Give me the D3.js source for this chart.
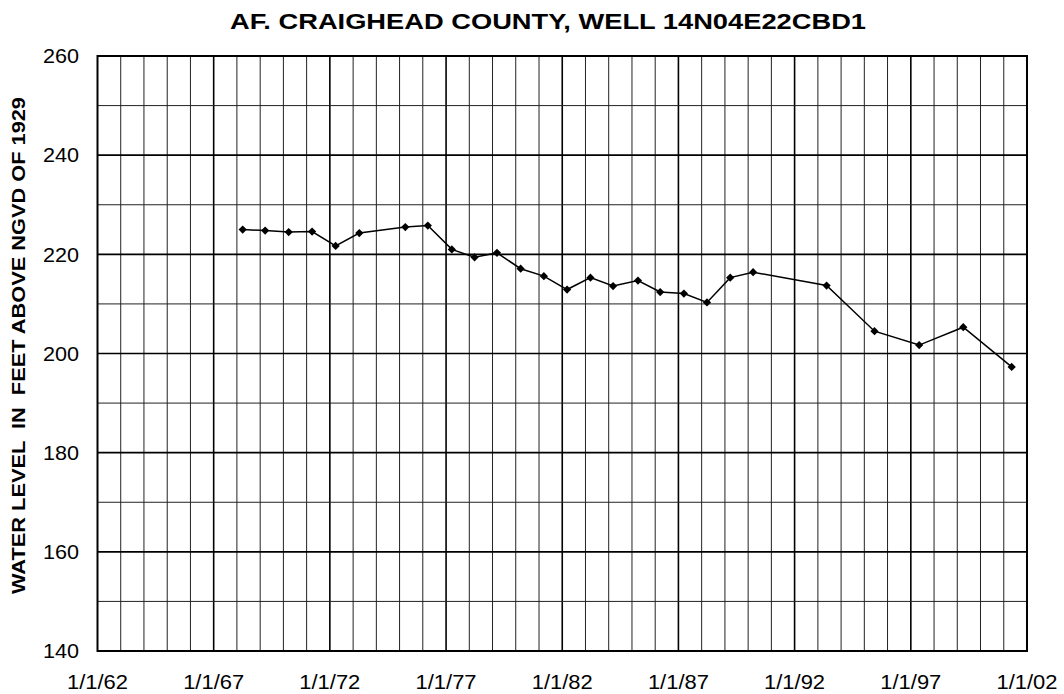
<!DOCTYPE html>
<html><head><meta charset="utf-8">
<script src="https://cdn.jsdelivr.net/npm/d3@7"></script>
<style>body{margin:0;background:#fff;}svg{display:block;font-family:"Liberation Sans",Arial,sans-serif;}</style>
</head><body>
<svg id="chart" width="1064" height="694"></svg>
<script>
const title = "AF. CRAIGHEAD COUNTY, WELL 14N04E22CBD1";
const yLabel = "WATER LEVEL  IN  FEET ABOVE NGVD OF 1929";
const dates = ["1968-04-01","1969-03-20","1970-03-25","1971-03-28","1972-04-01","1973-04-08",
  "1975-04-01","1976-03-20","1977-04-01","1978-03-25","1979-03-12","1980-03-18","1981-03-18",
  "1982-03-18","1983-03-20","1984-03-10","1985-04-05","1986-03-20","1987-03-28","1988-03-25",
  "1989-03-25","1990-03-20","1993-05-18","1995-06-10","1997-05-12","1999-04-05","2001-05-05"];
const levels = [225.0,224.8,224.5,224.6,221.7,224.3,225.5,225.8,221.0,219.4,220.3,217.1,215.6,
  212.9,215.3,213.6,214.7,212.4,212.1,210.3,215.3,216.4,213.7,204.5,201.7,205.3,197.3];
const yTicks = [140,160,180,200,220,240,260];
const xTickYears = [1962,1967,1972,1977,1982,1987,1992,1997,2002];
const xTickLabels = ["1/1/62","1/1/67","1/1/72","1/1/77","1/1/82","1/1/87","1/1/92","1/1/97","1/1/02"];

const svg = d3.select("#chart");
const L = 97.5, R = 1027, T = 56, B = 651;
const x = d3.scaleTime().domain([new Date(1962,0,1), new Date(2002,0,1)]).range([L,R]);
const y = d3.scaleLinear().domain([140,260]).range([B,T]);
const parse = d3.timeParse("%Y-%m-%d");
const data = dates.map((d,i)=>({date:parse(d), v:levels[i]}));

const g = svg.append("g");
const years = d3.range(1963, 2002);
g.selectAll("line.vg").data(years).join("line")
  .attr("x1", d=>x(new Date(d,0,1))).attr("x2", d=>x(new Date(d,0,1)))
  .attr("y1", T).attr("y2", B)
  .attr("stroke", d=> (d-1962)%5===0 ? "#000" : "#222")
  .attr("stroke-width", d=> (d-1962)%5===0 ? 1.6 : 1);
const hv = d3.range(150, 260, 10);
g.selectAll("line.hg").data(hv).join("line")
  .attr("x1", L).attr("x2", R)
  .attr("y1", d=>y(d)).attr("y2", d=>y(d))
  .attr("stroke", d=> d%20===0 ? "#000" : "#222")
  .attr("stroke-width", d=> d%20===0 ? 1.6 : 1);
g.append("rect").attr("x",L).attr("y",T).attr("width",R-L).attr("height",B-T)
  .attr("fill","none").attr("stroke","#000").attr("stroke-width",2);

svg.selectAll("text.yt").data(yTicks).join("text")
  .attr("x", 79).attr("y", d=>y(d)+7.3)
  .attr("text-anchor","end").attr("font-size",20)
  .attr("textLength",36).attr("lengthAdjust","spacingAndGlyphs").text(d=>d);
svg.selectAll("text.xt").data(xTickYears).join("text")
  .attr("x", d=>x(new Date(d,0,1))-30.5).attr("y", 689)
  .attr("text-anchor","start").attr("font-size",20)
  .attr("textLength",61).attr("lengthAdjust","spacingAndGlyphs").text((d,i)=>xTickLabels[i]);

const line = d3.line().x(d=>x(d.date)).y(d=>y(d.v));
svg.append("path").datum(data).attr("d",line).attr("fill","none")
  .attr("stroke","#000").attr("stroke-width",1.5);
const sym = d3.symbol().type(d3.symbolSquare).size(34);
svg.selectAll("path.pt").data(data).join("path")
  .attr("transform", d=>`translate(${x(d.date)},${y(d.v)}) rotate(45)`)
  .attr("d", sym).attr("fill","#000");

svg.append("text").attr("x", 230).attr("y", 29.3).attr("text-anchor","start")
  .attr("font-size",22).attr("font-weight","bold")
  .attr("textLength",636).attr("lengthAdjust","spacingAndGlyphs").text(title);
svg.append("text").attr("transform","translate(25,594) rotate(-90)")
  .attr("text-anchor","start").attr("font-size",18).attr("font-weight","bold")
  .attr("textLength",497).attr("lengthAdjust","spacingAndGlyphs")
  .style("white-space","pre").text(yLabel);
</script>
</body></html>
